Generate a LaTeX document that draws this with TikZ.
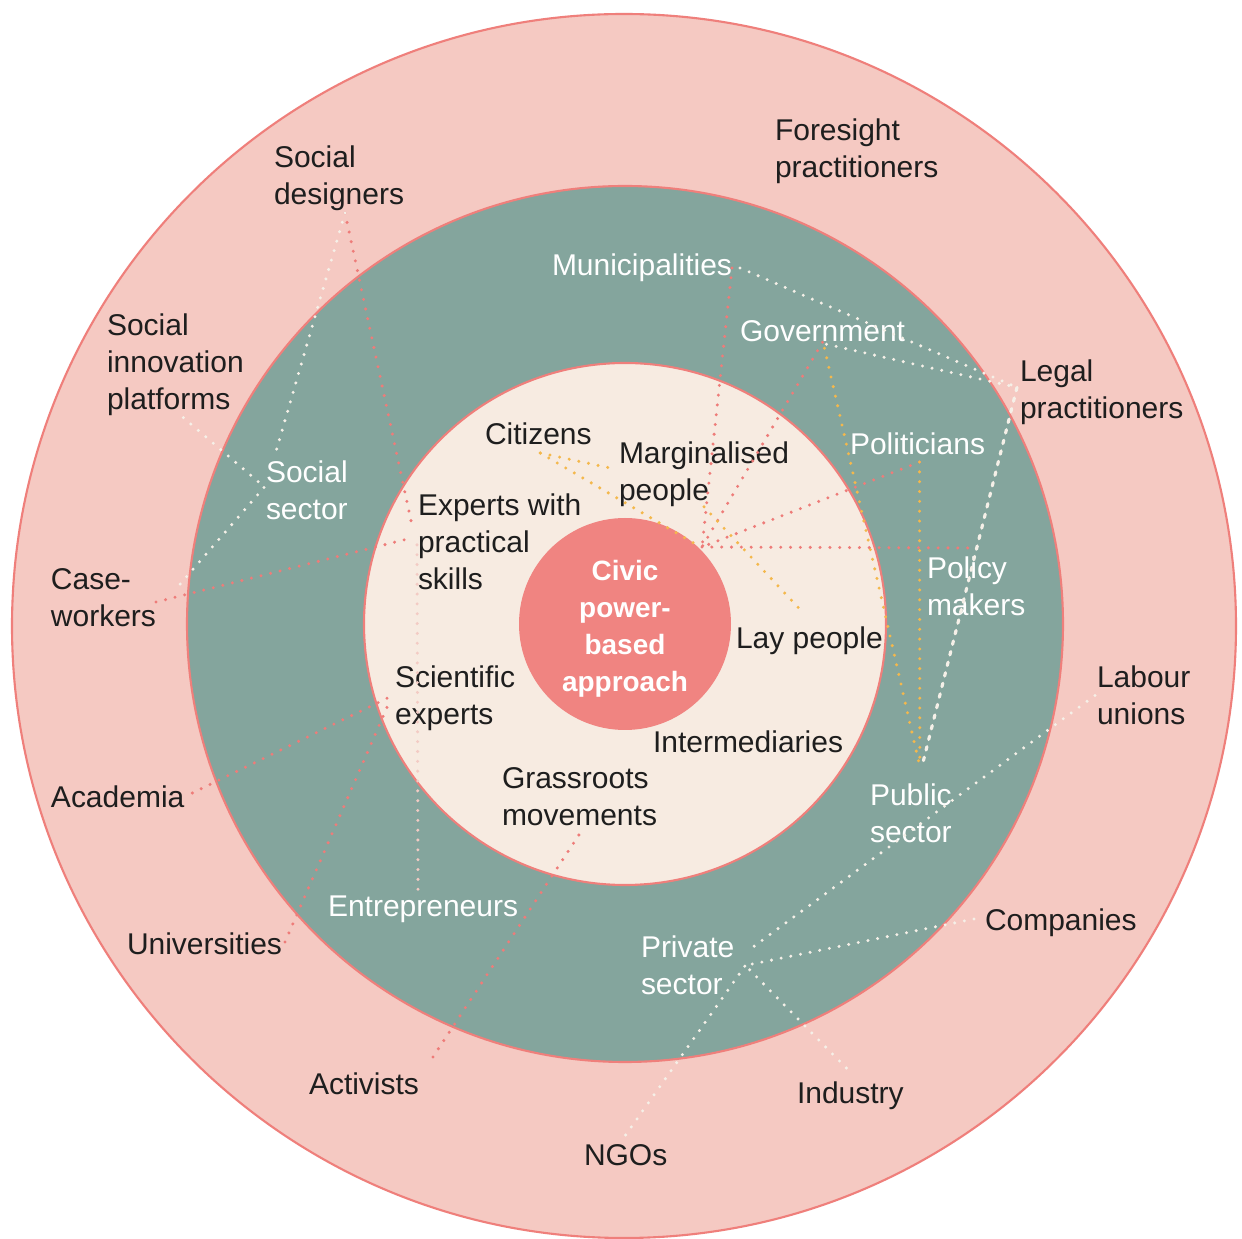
\documentclass[tikz,border=0pt]{standalone}
\usepackage{fontspec}
\setmainfont{Liberation Sans}
\definecolor{ringpink}{HTML}{F5C9C2}
\definecolor{edgered}{HTML}{EF7F7B}
\definecolor{teal}{HTML}{84A59D}
\definecolor{cream}{HTML}{F7EBE1}
\definecolor{corefill}{HTML}{F08481}
\definecolor{linkred}{HTML}{EE7C79}
\definecolor{linkyellow}{HTML}{F4B84C}
\definecolor{linkwhite}{HTML}{F5F0E8}
\definecolor{linkpink}{HTML}{F3CBC4}
\definecolor{ink}{HTML}{1E1E1E}
\begin{document}
\begin{tikzpicture}[x=0.02cm,y=-0.02cm,
  lbl/.style={inner sep=0pt, outer sep=0pt, anchor=north west, align=left,
    font=\fontsize{17.07}{20.98}\selectfont},
  darklbl/.style={lbl, text=ink},
  lightlbl/.style={lbl, text=white},
  dots/.style={line width=1.9pt, line cap=round, dash pattern=on 0pt off 5.6pt},
  reddots/.style={dots, draw=linkred},
  yellowdots/.style={dots, draw=linkyellow},
  whitedots/.style={dots, draw=linkwhite},
  pinkdots/.style={dots, draw=linkpink},
  whitedash/.style={line width=1.8pt, line cap=round, draw=linkwhite, dash pattern=on 2pt off 4.2pt},
  ring/.style={draw=edgered, line width=1.2pt}
]
\useasboundingbox (0,0) rectangle (1242,1239);
\fill[white] (0,0) rectangle (1242,1239);

% concentric rings
\filldraw[ring, fill=ringpink] (624,626) circle[radius=612];
\filldraw[ring, fill=teal] (625,624) circle[radius=438];
\filldraw[ring, fill=cream] (625,624) circle[radius=261];
\fill[corefill] (625,624) circle[radius=106];

\node[inner sep=0pt, align=center, text=white,
  font=\bfseries\fontsize{15.9}{20.98}\selectfont] (core) at (625,629)
  {Civic\\power-\\based\\approach};

% outer ring
\node[darklbl] (fore)    at (775,119)  {Foresight\\practitioners};
\node[darklbl] (socdes)  at (274,146)  {Social\\designers};
\node[darklbl] (socinno) at (107,314)  {Social\\innovation\\platforms};
\node[darklbl] (legal)   at (1020,360) {Legal\\practitioners};
\node[darklbl] (casew)   at (51,569)   {Case-\\workers};
\node[darklbl] (labour)  at (1097,666) {Labour\\unions};
\node[darklbl] (acad)    at (51,786)   {Academia};
\node[darklbl] (comp)    at (985,909)  {Companies};
\node[darklbl] (univ)    at (127,933)  {Universities};
\node[darklbl] (activ)   at (309,1073) {Activists};
\node[darklbl] (indus)   at (797,1082) {Industry};
\node[darklbl] (ngos)    at (584,1145) {NGOs};

% middle ring
\node[lightlbl] (mun)    at (552,254) {Municipalities};
\node[lightlbl] (gov)    at (740,321) {Government};
\node[lightlbl] (socsec) at (266,461) {Social\\sector};
\node[lightlbl] (pol)    at (850,433) {Politicians};
\node[lightlbl] (polmak) at (927,557) {Policy\\makers};
\node[lightlbl] (pubsec) at (870,784) {Public\\sector};
\node[lightlbl] (ent)    at (328,896) {Entrepreneurs};
\node[lightlbl] (privsec) at (641,936) {Private\\sector};

% inner ring
\node[darklbl] (cit)   at (485,423) {Citizens};
\node[darklbl] (marg)  at (619,442) {Marginalised\\people};
\node[darklbl] (exp)   at (418,494) {Experts with\\practical\\skills};
\node[darklbl] (lay)   at (736,627) {Lay people};
\node[darklbl] (sci)   at (395,666) {Scientific\\experts};
\node[darklbl] (inter) at (653,731) {Intermediaries};
\node[darklbl] (grass) at (502,768) {Grassroots\\movements};

% junction points
\coordinate (hub) at (702,547);
\coordinate (privport) at ([shift={(11,0)}]privsec.east);
\coordinate (pubport) at ([shift={(9,-17)}]pubsec.north);
\coordinate (legalport) at ([shift={(-3,-5)}]legal.west);

% red links
\draw[reddots] (mun.east) -- (hub);
\draw[reddots] (gov.south) -- (hub);
\draw[reddots] ([shift={(2,7)}]pol.south) -- (hub);
\draw[reddots] (hub) -- ([shift={(0,-9)}]polmak.north);
\draw[reddots] ([shift={(6,2)}]socdes.south) -- ([shift={(-5,36)}]exp.north west);
\draw[reddots] ([shift={(0,4)}]casew.east) -- ([shift={(-10,-3)}]exp.west);
\draw[reddots] ([shift={(8,-4)}]acad.east) -- ([shift={(-2,-3)}]sci.west);
\draw[reddots] ([shift={(3,-2)}]univ.east) -- ([shift={(-5,2)}]sci.west);
\draw[reddots] ([shift={(14,-16)}]activ.north east) -- ([shift={(0,8)}]grass.south);
\draw[pinkdots] ([shift={(-1,3)}]exp.west) -- ([shift={(-5,-6)}]ent.north);

% yellow links
\draw[yellowdots] ([shift={(2,8)}]cit.south) -- ([shift={(-7,-6)}]marg.west);
\draw[yellowdots] ([shift={(2,8)}]cit.south) -- ([shift={(-5,-2)}]hub);
\draw[yellowdots] (marg.south) -- ([shift={(-6,-14)}]lay.north);
\draw[yellowdots] ([shift={(2,6)}]gov.south) -- (pubport);
\draw[yellowdots] ([shift={(2,7)}]pol.south) -- (pubport);

% white links
\draw[whitedots] ([shift={(8,0)}]mun.east) -- (legalport);
\draw[whitedots] ([shift={(4,2)}]gov.south) -- (legalport);
\draw[whitedash] (legalport) -- ([shift={(3,-4)}]pubport);
\draw[whitedots] ([shift={(6,2)}]socdes.south) -- ([shift={(9,-6)}]socsec.north west);
\draw[whitedots] ([shift={(8,2)}]socinno.south) -- ([shift={(-1,-3)}]socsec.west);
\draw[whitedots] ([shift={(-2,-3)}]socsec.west) -- ([shift={(19,-8)}]casew.east);
\draw[whitedots] ([shift={(-2,0)}]labour.west) -- ([shift={(3,-15)}]privport);
\draw[whitedots] ([shift={(-11,-4)}]comp.west) -- (privport);
\draw[whitedots] ([shift={(-4,-14)}]indus.north) -- (privport);
\draw[whitedots] ([shift={(0,-10)}]ngos.north) -- (privport);
\end{tikzpicture}
\end{document}
